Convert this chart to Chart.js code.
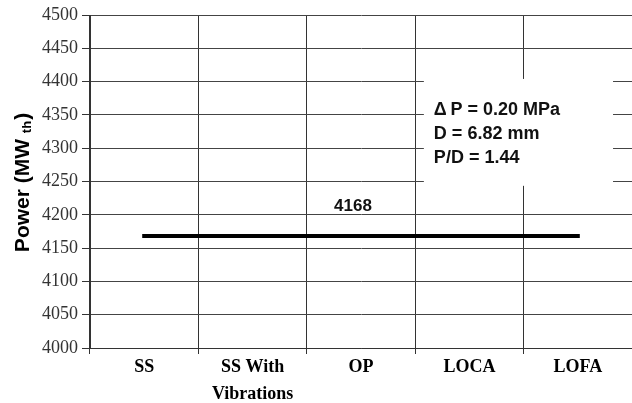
<!DOCTYPE html>
<html>
<head>
<meta charset="utf-8">
<script src="https://cdn.jsdelivr.net/npm/chart.js@4"></script>
<style>
  html, body { margin: 0; padding: 0; background: #fff; }
  #wrap { width: 632px; height: 403px; }
</style>
</head>
<body>
<div id="wrap"><canvas id="c" width="632" height="403"></canvas></div>
<script>
// Operating conditions and the thermal power found for each
const categories = ['SS', ['SS With', 'Vibrations'], 'OP', 'LOCA', 'LOFA'];
const powerMWth = [4168, 4168, 4168, 4168, 4168];
const yTicks = [4000, 4050, 4100, 4150, 4200, 4250, 4300, 4350, 4400, 4450, 4500];
const designNotes = ['\u0394\u2009P = 0.20 MPa', 'D = 6.82 mm', 'P/D = 1.44'];
const labelledIndex = 2;

const SANS = '"Liberation Sans", Arial, sans-serif';
const SERIF = '"Liberation Serif", "Times New Roman", serif';

// Rotated axis title with a subscript
const axisTitle = {
  id: 'axisTitle',
  afterDraw(chart) {
    const { ctx } = chart;
    ctx.save();
    ctx.translate(23, 183);
    ctx.rotate(-Math.PI / 2);
    ctx.fillStyle = '#000';
    ctx.textBaseline = 'middle';
    const main = 'Power (MW ';
    const sub = 'th';
    const tail = ')';
    const big = 'bold 21px ' + SANS;
    const small = 'bold 13px ' + SANS;
    ctx.font = big;
    const wMain = ctx.measureText(main).width;
    const wTail = ctx.measureText(tail).width;
    ctx.font = small;
    const wSub = ctx.measureText(sub).width;
    let x = -(wMain + wSub + wTail) / 2;
    ctx.font = big;
    ctx.fillText(main, x, 0); x += wMain;
    ctx.font = small;
    ctx.fillText(sub, x, 4); x += wSub + 1;
    ctx.font = big;
    ctx.fillText(tail, x, 0);
    ctx.restore();
  }
};

// White note box over the grid, plus the value label above the line
const notes = {
  id: 'notes',
  afterDatasetsDraw(chart) {
    const { ctx, chartArea } = chart;
    const w = chartArea.right - chartArea.left;
    const h = chartArea.bottom - chartArea.top;
    const bx = chartArea.left + w * 0.616;
    const by = chartArea.top + h * 0.192;
    const bw = w * 0.349;
    const bh = h * 0.321;
    ctx.save();
    ctx.fillStyle = '#fff';
    ctx.fillRect(bx, by, bw, bh);
    ctx.fillStyle = '#111';
    ctx.font = 'bold 18px ' + SANS;
    ctx.textBaseline = 'middle';
    ctx.textAlign = 'left';
    designNotes.forEach((t, i) => ctx.fillText(t, bx + 10, by + 31 + i * 24));

    const meta = chart.getDatasetMeta(0);
    const pt = meta.data[labelledIndex];
    ctx.font = 'bold 17px ' + SANS;
    ctx.textAlign = 'center';
    ctx.fillText(String(powerMWth[labelledIndex]), pt.x - 8, pt.y - 30);
    ctx.restore();
  }
};

new Chart(document.getElementById('c'), {
  type: 'line',
  data: {
    labels: categories,
    datasets: [{
      data: powerMWth,
      borderColor: '#000',
      borderWidth: 4,
      borderCapStyle: 'square',
      pointRadius: 0,
      tension: 0
    }]
  },
  options: {
    responsive: false,
    animation: false,
    devicePixelRatio: 1,
    layout: { padding: { top: 15, right: 0, left: 0, bottom: 0 } },
    plugins: { legend: { display: false }, tooltip: { enabled: false } },
    scales: {
      x: {
        offset: true,
        grid: {
          offset: true,
          color: '#333',
          lineWidth: 1,
          drawTicks: true,
          tickLength: 6,
          tickColor: '#333'
        },
        border: { color: '#333', width: 1 },
        ticks: {
          color: '#000',
          padding: 0,
          maxRotation: 0,
          autoSkip: false,
          font: { family: SERIF, size: 18, weight: 'bold', lineHeight: 1.5 }
        },
        afterFit(s) { s.height = 55; }
      },
      y: {
        min: 4000,
        max: 4500,
        afterBuildTicks(s) { s.ticks = yTicks.map(v => ({ value: v })); },
        grid: {
          color: '#444',
          lineWidth: 1,
          tickLength: 8,
          tickColor: '#333'
        },
        border: { color: '#333', width: 1 },
        ticks: {
          color: '#333',
          padding: 4,
          callback: v => String(v),
          font: { family: SERIF, size: 18 }
        },
        afterFit(s) { s.width = 90; }
      }
    }
  },
  plugins: [axisTitle, notes]
});
</script>
</body>
</html>
